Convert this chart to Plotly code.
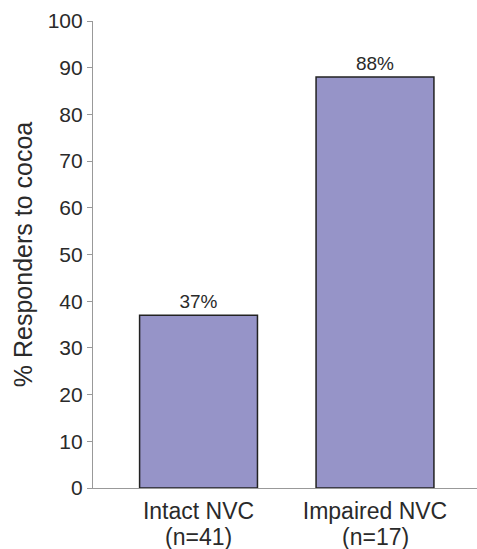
import plotly.graph_objects as go

categories = ["Intact NVC", "Impaired NVC"]
sample_sizes = ["(n=41)", "(n=17)"]
values = [37, 88]
labels = ["37%", "88%"]
y_ticks = [0, 10, 20, 30, 40, 50, 60, 70, 80, 90, 100]

FONT = "Liberation Sans, Arial, sans-serif"
positions = list(range(len(categories)))

fig = go.Figure()
fig.add_trace(go.Bar(
    x=positions, y=values, width=0.668,
    marker=dict(color="rgb(150,148,200)", line=dict(color="#222222", width=1.5)),
    text=labels, textposition="outside", cliponaxis=False,
    textfont=dict(size=19, color="#2a2a2a", family=FONT),
))

for p, n in zip(positions, sample_sizes):
    fig.add_annotation(x=p, y=0, xref="x", yref="y", text=n, showarrow=False,
                       yanchor="middle", yshift=-49,
                       font=dict(size=23, color="#2a2a2a", family=FONT))

fig.update_layout(
    width=477, height=549,
    margin=dict(l=93, r=0, t=21, b=61),
    paper_bgcolor="white", plot_bgcolor="white",
    font=dict(family=FONT, size=21, color="#2a2a2a"),
    showlegend=False,
)
fig.update_xaxes(
    range=[-0.598, 1.578], tickvals=positions, ticktext=categories,
    showline=True, linecolor="#999999", linewidth=1.2, ticks="", showgrid=False,
    zeroline=False, tickfont=dict(size=23), automargin=False, ticklabelstandoff=2,
)
fig.update_yaxes(
    range=[0, 100], tickvals=y_ticks, showline=True, linecolor="#999999", linewidth=1.2,
    ticks="outside", ticklen=5, tickcolor="#999999", showgrid=False, zeroline=False,
    title=dict(text="% Responders to cocoa", font=dict(size=25), standoff=7),
    tickfont=dict(size=21), automargin=False,
)
fig.write_html("out.html", post_script="document.body.style.margin='0';",
               config={"displayModeBar": False})
